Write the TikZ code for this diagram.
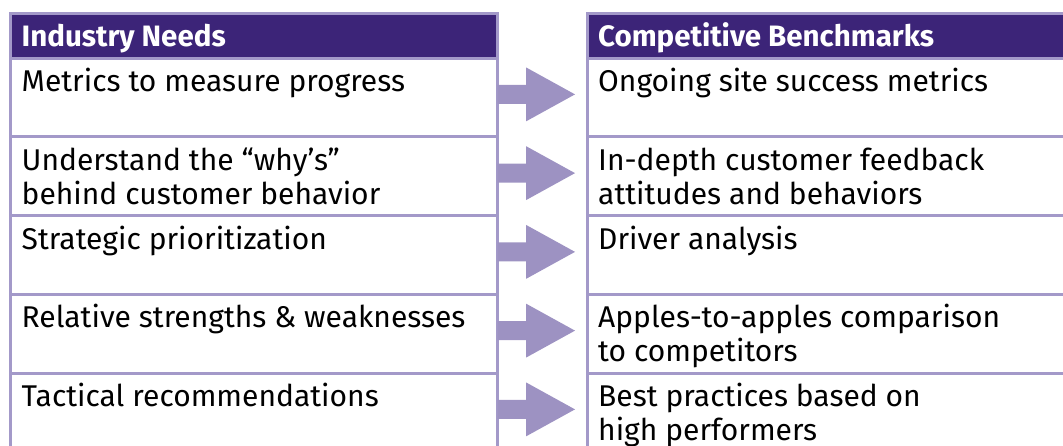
\documentclass[tikz,border=0pt]{standalone}
\usepackage{fontspec}
\setmainfont{Fira Sans}
\definecolor{headpurple}{HTML}{3C2478}
\definecolor{lilac}{HTML}{A399C9}
\definecolor{arrowlilac}{HTML}{9D92C2}
\usetikzlibrary{calc}

\tikzset{
  cell/.style={rectangle, draw=lilac, line width=3pt, fill=white, anchor=north west,
    inner sep=0pt, outer sep=0pt, minimum width=487pt, minimum height=78.75pt},
  headcell/.style={cell, fill=headpurple, minimum height=44.5pt},
  celltext/.style={anchor=base west, inner sep=0pt, align=left,
    font=\fontsize{30}{34}\selectfont},
  headtext/.style={anchor=base west, inner sep=0pt, text=white,
    font=\fontsize{29.5}{30}\selectfont\bfseries},
  arrowfill/.style={fill=arrowlilac}
}

\begin{document}
\begin{tikzpicture}[x=1pt, y=-1pt]
\useasboundingbox (0,0) rectangle (1063,445);
\clip (0,0) rectangle (1063,445);
%% column Industry Needs
\node[headcell] (needhead) at (10.5,13.5) {};
\node[cell] (need1) at (10.5,58) {};
\node[cell] (need2) at (10.5,136.75) {};
\node[cell] (need3) at (10.5,215.5) {};
\node[cell] (need4) at (10.5,294.25) {};
\node[cell] (need5) at (10.5,373) {};
\node[headtext] (needtitle) at ($(needhead.north west)+(11,32.5)$) {Industry Needs};
\node[celltext] (needtext1) at ($(need1.north west)+(11,33.5)$) {Metrics to measure progress};
\node[celltext] (needtext2) at ($(need2.north west)+(11,67.5)$) {Understand the “why’s”\\behind customer behavior};
\node[celltext] (needtext3) at ($(need3.north west)+(11,33.5)$) {Strategic prioritization};
\node[celltext] (needtext4) at ($(need4.north west)+(11,33.5)$) {Relative strengths \& weaknesses};
\node[celltext] (needtext5) at ($(need5.north west)+(11,33.5)$) {Tactical recommendations};
%% column Competitive Benchmarks
\node[headcell, minimum width=600pt] (benchhead) at (587.5,13.5) {};
\node[cell, minimum width=600pt] (bench1) at (587.5,58) {};
\node[cell, minimum width=600pt] (bench2) at (587.5,136.75) {};
\node[cell, minimum width=600pt] (bench3) at (587.5,215.5) {};
\node[cell, minimum width=600pt] (bench4) at (587.5,294.25) {};
\node[cell, minimum width=600pt] (bench5) at (587.5,373) {};
\node[headtext] (benchtitle) at ($(benchhead.north west)+(10.5,32.5)$) {Competitive Benchmarks};
\node[celltext] (benchtext1) at ($(bench1.north west)+(10.5,33.5)$) {Ongoing site success metrics};
\node[celltext] (benchtext2) at ($(bench2.north west)+(10.5,67.5)$) {In-depth customer feedback\\attitudes and behaviors};
\node[celltext] (benchtext3) at ($(bench3.north west)+(10.5,33.5)$) {Driver analysis};
\node[celltext] (benchtext4) at ($(bench4.north west)+(10.5,67.5)$) {Apples-to-apples comparison\\to competitors};
\node[celltext] (benchtext5) at ($(bench5.north west)+(10.5,67.5)$) {Best practices based on\\high performers};
%% block arrows
\fill[arrowfill] ($(need1.east)+(0,-12.5)$) -- ++(28.5,0) -- ++(0,-17.5) -- ($(bench1.west)+(-12.5,-3)$) -- ($(need1.east)+(28.5,24)$) -- ++(0,-17.5) -- ++(-28.5,0) -- cycle;
\fill[arrowfill] ($(need2.east)+(0,-12.5)$) -- ++(28.5,0) -- ++(0,-17.5) -- ($(bench2.west)+(-12.5,-3)$) -- ($(need2.east)+(28.5,24)$) -- ++(0,-17.5) -- ++(-28.5,0) -- cycle;
\fill[arrowfill] ($(need3.east)+(0,-12.5)$) -- ++(28.5,0) -- ++(0,-17.5) -- ($(bench3.west)+(-12.5,-3)$) -- ($(need3.east)+(28.5,24)$) -- ++(0,-17.5) -- ++(-28.5,0) -- cycle;
\fill[arrowfill] ($(need4.east)+(0,-12.5)$) -- ++(28.5,0) -- ++(0,-17.5) -- ($(bench4.west)+(-12.5,-3)$) -- ($(need4.east)+(28.5,24)$) -- ++(0,-17.5) -- ++(-28.5,0) -- cycle;
\fill[arrowfill] ($(need5.east)+(0,-12.5)$) -- ++(28.5,0) -- ++(0,-17.5) -- ($(bench5.west)+(-12.5,-3)$) -- ($(need5.east)+(28.5,24)$) -- ++(0,-17.5) -- ++(-28.5,0) -- cycle;
\end{tikzpicture}
\end{document}
